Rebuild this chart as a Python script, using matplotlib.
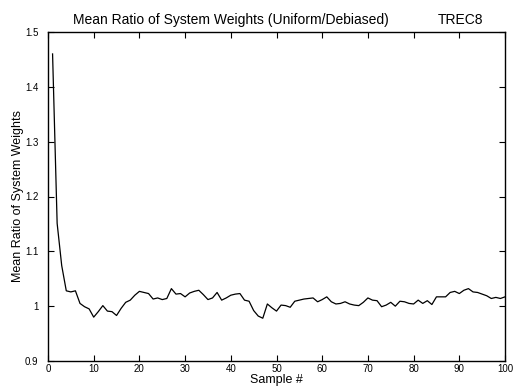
import matplotlib
matplotlib.use("Agg")
import matplotlib.pyplot as plt

# sample number and mean ratio
samples = list(range(1, 101))
mean_ratio = [
    1.460, 1.151, 1.074, 1.028, 1.026, 1.028, 1.005, 0.999, 0.995, 0.980,
    0.990, 1.001, 0.991, 0.990, 0.983, 0.996, 1.007, 1.011, 1.020, 1.027,
    1.025, 1.023, 1.013, 1.015, 1.012, 1.014, 1.032, 1.022, 1.023, 1.017,
    1.024, 1.027, 1.029, 1.021, 1.012, 1.015, 1.025, 1.011, 1.015, 1.020,
    1.022, 1.023, 1.011, 1.009, 0.992, 0.982, 0.978, 1.004, 0.997, 0.991,
    1.002, 1.001, 0.998, 1.009, 1.011, 1.013, 1.014, 1.015, 1.008, 1.012,
    1.017, 1.008, 1.004, 1.005, 1.008, 1.004, 1.002, 1.001, 1.007, 1.015,
    1.011, 1.010, 0.999, 1.002, 1.007, 1.000, 1.009, 1.008, 1.005, 1.004,
    1.011, 1.005, 1.010, 1.003, 1.017, 1.017, 1.017, 1.025, 1.027, 1.023,
    1.029, 1.032, 1.026, 1.025, 1.022, 1.019, 1.014, 1.016, 1.014, 1.017,
]
x_ticks = list(range(0, 101, 10))
y_ticks = [0.9, 1.0, 1.1, 1.2, 1.3, 1.4, 1.5]
y_labels = ["0.9", "1", "1.1", "1.2", "1.3", "1.4", "1.5"]

plt.rcParams["font.family"] = ["Liberation Sans", "DejaVu Sans"]

fig = plt.figure(figsize=(5.15, 3.89), dpi=100)
ax = fig.add_axes([48 / 515, 28 / 389, 457 / 515, 329 / 389])

ax.plot(samples, mean_ratio, color="black", linewidth=0.9)

ax.set_xlim(0, 100)
ax.set_ylim(0.9, 1.5)
ax.set_xticks(x_ticks)
ax.set_yticks(y_ticks)
ax.set_yticklabels(y_labels)
ax.tick_params(direction="in", top=True, right=True, length=4, width=0.8,
               labelsize=7)
ax.tick_params(axis="x", pad=2)
ax.tick_params(axis="y", pad=7)
for s in ax.spines.values():
    s.set_linewidth(1.0)

ax.set_xlabel("Sample #", fontsize=9, labelpad=0)
ax.set_ylabel("Mean Ratio of System Weights", fontsize=9)
ax.yaxis.set_label_coords(-0.052, 0.5)

fig.text(231 / 515, 1 - 20 / 389, "Mean Ratio of System Weights (Uniform/Debiased)",
         ha="center", va="center", fontsize=10)
fig.text(460 / 515, 1 - 20 / 389, "TREC8", ha="center", va="center", fontsize=10)

fig.savefig("out.png", dpi=100)
